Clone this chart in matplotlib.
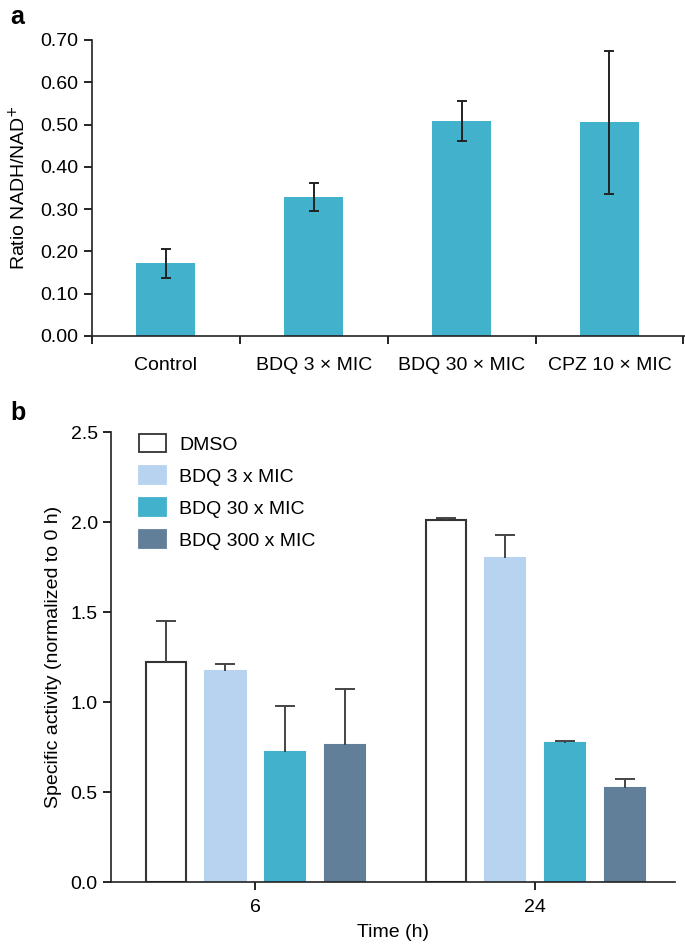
import matplotlib

matplotlib.use('Agg')
import matplotlib.pyplot as plt
from matplotlib.patches import Patch
import numpy as np

plt.rcParams['font.family'] = ['Liberation Sans', 'DejaVu Sans']

# panel a
ratio_labels = ['Control', 'BDQ 3 × MIC', 'BDQ 30 × MIC', 'CPZ 10 × MIC']
ratio_values = [0.172, 0.328, 0.508, 0.505]
ratio_errors = [0.034, 0.033, 0.047, 0.170]

# panel b
time_labels = ['6', '24']
treatments = ['DMSO', 'BDQ 3 x MIC', 'BDQ 30 x MIC', 'BDQ 300 x MIC']
activity = {
    'DMSO': [1.22, 2.01],
    'BDQ 3 x MIC': [1.17, 1.80],
    'BDQ 30 x MIC': [0.72, 0.77],
    'BDQ 300 x MIC': [0.76, 0.52],
}
activity_err = {
    'DMSO': [0.23, 0.01],
    'BDQ 3 x MIC': [0.04, 0.13],
    'BDQ 30 x MIC': [0.26, 0.015],
    'BDQ 300 x MIC': [0.31, 0.05],
}

CYAN = '#42b1cc'
face_colors = ['white', '#b8d3ef', CYAN, '#627f99']
edge_colors = ['#333333', '#b8d3ef', CYAN, '#627f99']
FS = 14

fig = plt.figure(figsize=(6.85, 9.51), dpi=100)

# ---- panel a ----
ax_a = fig.add_axes([0.134, 0.6467, 0.868, 0.3113])
x = np.arange(len(ratio_labels))
ax_a.bar(x, ratio_values, width=0.4, color=CYAN)
ax_a.errorbar(x, ratio_values, yerr=ratio_errors, fmt='none',
              ecolor='#222222', elinewidth=1.4, capsize=3.5, capthick=1.4)
ax_a.set_xlim(-0.5, 3.52)
ax_a.set_ylim(0, 0.70)
yt = np.arange(0, 0.71, 0.1)
ax_a.set_yticks(yt)
ax_a.set_yticklabels([f'{v:.2f}' for v in yt])
ax_a.set_xticks(np.arange(-0.5, 3.6, 1.0))
ax_a.set_xticklabels([])
ax_a.set_xticks(x, minor=True)
ax_a.set_xticklabels(ratio_labels, minor=True)
ax_a.tick_params(axis='x', which='minor', length=0, pad=15, labelsize=FS)
ax_a.tick_params(axis='x', which='major', length=6, width=1.2)
ax_a.tick_params(axis='y', length=6, width=1.2, labelsize=FS)
ax_a.set_ylabel('Ratio NADH/NAD$^{+}$', fontsize=FS, labelpad=8)
for side in ('top', 'right'):
    ax_a.spines[side].set_visible(False)
for side in ('left', 'bottom'):
    ax_a.spines[side].set_linewidth(1.2)
    ax_a.spines[side].set_color('#222222')
fig.text(0.015, 0.982, 'a', fontsize=18, fontweight='bold', va='center')

# ---- panel b ----
ax_b = fig.add_axes([0.162, 0.0725, 0.824, 0.4732])
groups = np.arange(len(time_labels))
spacing = 0.214
handles = []
for i, name in enumerate(treatments):
    pos = groups + (i - 1.5) * spacing
    ax_b.bar(pos, activity[name], width=0.143, color=face_colors[i],
             edgecolor=edge_colors[i], linewidth=1.5)
    _, caps, _ = ax_b.errorbar(pos, activity[name],
                               yerr=[np.zeros(len(groups)), activity_err[name]],
                               fmt='none', ecolor='#444444', elinewidth=1.4,
                               capsize=7.5, capthick=1.4)
    caps[0].set_visible(False)
    handles.append(Patch(facecolor=face_colors[i], edgecolor=edge_colors[i],
                         linewidth=1.3, label=name))
ax_b.set_xlim(-0.516, 1.5)
ax_b.set_ylim(0, 2.5)
yt = np.arange(0, 2.6, 0.5)
ax_b.set_yticks(yt)
ax_b.set_yticklabels([f'{v:.1f}' for v in yt])
ax_b.set_xticks(groups)
ax_b.set_xticklabels(time_labels)
ax_b.tick_params(axis='x', length=6, width=1.2, pad=6, labelsize=FS)
ax_b.tick_params(axis='y', length=6, width=1.2, labelsize=FS)
ax_b.set_ylabel('Specific activity (normalized to 0 h)', fontsize=FS,
                labelpad=6)
ax_b.set_xlabel('Time (h)', fontsize=FS, labelpad=6)
for side in ('top', 'right'):
    ax_b.spines[side].set_visible(False)
for side in ('left', 'bottom'):
    ax_b.spines[side].set_linewidth(1.2)
    ax_b.spines[side].set_color('#222222')
ax_b.legend(handles=handles, loc='upper left', bbox_to_anchor=(0.018, 1.035),
            frameon=False, fontsize=FS, handlelength=1.4, handleheight=1.1,
            labelspacing=0.62, handletextpad=0.7)
fig.text(0.015, 0.566, 'b', fontsize=18, fontweight='bold', va='center')

fig.savefig('out.png', dpi=100)
